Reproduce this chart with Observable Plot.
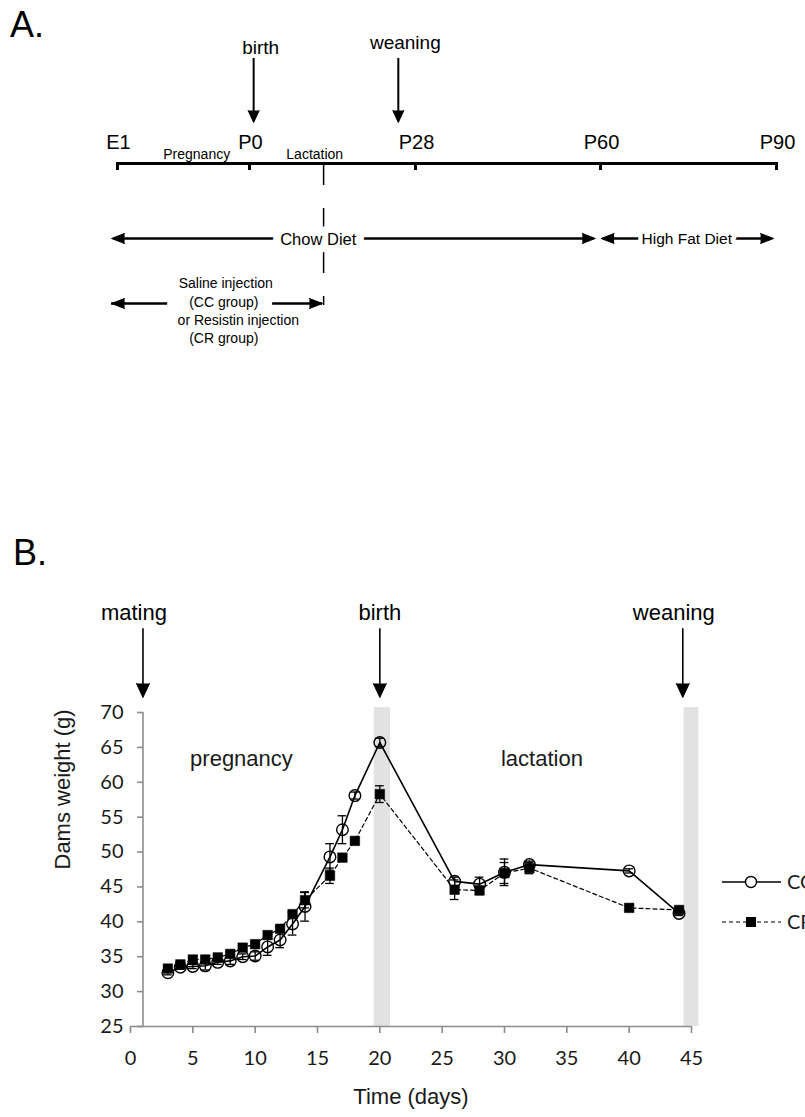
<!DOCTYPE html>
<html><head><meta charset="utf-8">
<script src="https://cdn.jsdelivr.net/npm/d3@7"></script>
<script src="https://cdn.jsdelivr.net/npm/@observablehq/plot@0.6"></script>
<style>
body{margin:0;background:#fff;}
#wrap{position:relative;width:805px;height:1117px;overflow:hidden;background:#fff;font-family:"Liberation Sans",Arial,sans-serif;color:#000;}
#a,#b{position:absolute;left:0;}
#a{top:0}#b{top:480px}
.panel{position:absolute;font-size:36px;line-height:1;}
</style></head><body>
<div id="wrap">
  <div id="a"></div><div id="b"></div>
  <div class="panel" style="left:10px;top:7px">A.</div>
  <div class="panel" style="left:13px;top:535px">B.</div>
</div>
<script>
// ---------- Panel A data (schematic timeline, in days relative to birth) ----------
const stopLabels = ["E1","P0","P28","P60","P90"];
const stopDays = [-20, 0, 28, 60, 90];
const phaseLabels = ["Pregnancy","Lactation"];
const phaseDays = [-8, 11];
const eventLabelsA = ["birth","weaning"];
const eventDaysA = [0.7, 25.1];
const eventLabelRowA = [47, 42];
const injectionEndDay = 12.5;
const dietLabels = ["Chow Diet","High Fat Diet"];
const dietFrom = [-20.9, 60.1];
const dietTo = [59.1, 89.5];
const dietMid = [11.6, 74.7];
const injectionLines = ["Saline injection","(CC group)","or Resistin injection","(CR group)"];
const injectionLineDays = [-3.6, -3.9, -1.7, -3.9];
const injectionFrom = [-20.9, 3.9];
const injectionTo = [-12.4, 12.3];

// ---------- Panel B data ----------
const days = [3,4,5,6,7,8,9,10,11,12,13,14,16,17,18,20,26,28,30,32,40,44];
const ccWeight = [32.7,33.5,33.6,33.7,34.2,34.4,35.0,35.1,36.4,37.4,39.7,42.2,49.3,53.2,58.1,65.7,45.8,45.4,47.1,48.2,47.3,41.2];
const ccErr    = [0.3,0.3,0.3,0.6,0.3,0.5,0.4,0.6,1.2,1.1,1.6,2.1,1.9,2.0,0.5,0.6,0.6,1.0,1.9,0.5,0.3,0.3];
const crWeight = [33.3,33.9,34.6,34.6,34.9,35.4,36.3,36.8,38.1,39.0,41.1,43.1,46.6,49.2,51.6,58.3,44.6,44.5,47.0,47.7,42.0,41.7];
const crErr    = [0.3,0.3,0.3,0.3,0.3,0.3,0.3,0.3,0.3,0.3,0.3,1.1,1.1,0.5,0.3,1.2,1.4,0.6,1.5,0.8,0.3,0.3];
const xTicks = [0,5,10,15,20,25,30,35,40,45];
const yTicks = [25,30,35,40,45,50,55,60,65,70];
const eventLabelsB = ["mating","birth","weaning"];
const eventDaysB = [1, 20, 44.3];
const bandFrom = [19.55, 44.4];
const bandTo = [20.85, 45.6];
const phaseLabelsB = ["pregnancy","lactation"];
const phaseDaysB = [8.9, 33.0];
const seriesNames = ["CC","CR"];

// ---------- Panel A ----------
const stops = stopLabels.map((label,i)=>({label, day: stopDays[i]}));
const phases = phaseLabels.map((label,i)=>({label, day: phaseDays[i]}));
const eventsA = eventLabelsA.map((label,i)=>({label, day: eventDaysA[i], row: i}));
const diets = dietLabels.map((label,i)=>({label, from: dietFrom[i], to: dietTo[i], mid: dietMid[i]}));
const injText = injectionLines.map((label,i)=>({label, day: injectionLineDays[i], row: i}));
const injSegs = injectionFrom.map((f,i)=>({from: f, to: injectionTo[i]}));
const rowY = [283, 302, 320, 338];

const plotA = Plot.plot({
  width: 805, height: 480, margin: 0,
  x: {type: "linear", domain: stopDays, range: [117, 249, 415, 600, 776], axis: null},
  y: {type: "identity", axis: null},
  style: {fontFamily: "'Liberation Sans', Arial, sans-serif", color: "black", background: "white"},
  marks: [
    // timeline
    Plot.ruleY([{from: stopDays[0], to: stopDays[stopDays.length-1]}], {y: 163, x1: "from", x2: "to", strokeWidth: 3, stroke: "black"}),
    Plot.ruleX(stops, {x: "day", y1: 162, y2: 170, strokeWidth: 3, stroke: "black"}),
    Plot.text(stops, {x: "day", y: 142, dx: 1, text: "label", fontSize: 20, fill: "black"}),
    Plot.text(phases, {x: "day", y: 154, text: "label", fontSize: 14, fill: "black"}),
    // event arrows
    Plot.ruleX(eventsA, {x: "day", y1: 58, y2: 115, strokeWidth: 2, stroke: "black"}),
    Plot.vector(eventsA, {x: "day", y: 122, rotate: 180, length: 12, shape: "spike", r: 5.5, anchor: "end", fill: "black", stroke: "black", strokeWidth: 1}),
    Plot.text(eventsA, {x: "day", y: d => eventLabelRowA[d.row], dx: 7, text: "label", fontSize: 19, fill: "black"}),
    // lactation split (dashed)
    Plot.ruleX([injectionEndDay], {y1: 164, y2: 305, strokeWidth: 1.5, stroke: "black", strokeDasharray: "21,23"}),
    // diets
    Plot.ruleY(diets, {y: 238, x1: "from", x2: "to", insetLeft: 6, insetRight: 6, strokeWidth: 2.5, stroke: "black"}),
    Plot.vector(diets, {x: "from", y: 238, rotate: 270, length: 13, shape: "spike", r: 5, anchor: "end", fill: "black", stroke: "black", strokeWidth: 1}),
    Plot.vector(diets, {x: "to", y: 238, rotate: 90, length: 13, shape: "spike", r: 5, anchor: "end", fill: "black", stroke: "black", strokeWidth: 1}),
    Plot.text(diets.slice(0,1), {x: "mid", y: 239, text: "label", fontSize: 16.5, fill: "black", stroke: "white", strokeWidth: 16}),
    Plot.text(diets.slice(1), {x: "mid", y: 239, text: "label", fontSize: 15.5, fill: "black", stroke: "white", strokeWidth: 9}),
    // injection
    Plot.ruleY(injSegs, {y: 303, x1: "from", x2: "to", strokeWidth: 2.5, stroke: "black"}),
    Plot.vector(injSegs.slice(0,1), {x: "from", y: 303, rotate: 270, length: 13, shape: "spike", r: 5, anchor: "end", fill: "black", stroke: "black", strokeWidth: 1}),
    Plot.vector(injSegs.slice(1), {x: "to", y: 303, rotate: 90, length: 13, shape: "spike", r: 5, anchor: "end", fill: "black", stroke: "black", strokeWidth: 1}),
    Plot.text(injText, {x: "day", y: d => rowY[d.row], text: "label", fontSize: 14, fill: "black"})
  ]
});
document.getElementById("a").append(plotA);

// ---------- Panel B ----------
const ccRows = days.map((d,i)=>({day: d, w: ccWeight[i], e: ccErr[i]}));
const crRows = days.map((d,i)=>({day: d, w: crWeight[i], e: crErr[i]}));
const bands = bandFrom.map((f,i)=>({from: f, to: bandTo[i]}));
const eventsB = eventLabelsB.map((label,i)=>({label, day: eventDaysB[i]}));
const phasesB = phaseLabelsB.map((label,i)=>({label, day: phaseDaysB[i]}));
const eventLabelShift = [-9, 0, -9];

const errMarks = (rows) => [
  Plot.ruleX(rows, {x: "day", y1: d => d.w - d.e, y2: d => d.w + d.e, stroke: "black", strokeWidth: 1.3}),
  Plot.ruleY(rows, {y: d => d.w + d.e, x1: d => d.day - 0.35, x2: d => d.day + 0.35, stroke: "black", strokeWidth: 1.3}),
  Plot.ruleY(rows, {y: d => d.w - d.e, x1: d => d.day - 0.35, x2: d => d.day + 0.35, stroke: "black", strokeWidth: 1.3})
];

const plotB = Plot.plot({
  width: 805, height: 637,
  marginTop: 232, marginBottom: 91, marginLeft: 130, marginRight: 114,
  x: {domain: [0, 45], axis: null},
  y: {domain: [25, 70], axis: null},
  style: {fontFamily: "'Liberation Sans', Arial, sans-serif", color: "black", background: "transparent", overflow: "visible"},
  marks: [
    Plot.rect(bands, {x1: "from", x2: "to", y1: 25, y2: 70.7, fill: "#e2e2e2"}),
    Plot.ruleY([25], {x1: 0, x2: 45, stroke: "#8c8c8c", strokeWidth: 1.6}),
    Plot.ruleX([1], {y1: 25, y2: 70, stroke: "#8c8c8c", strokeWidth: 1.6}),
    Plot.axisX({ticks: xTicks, tickSize: 7, tickPadding: 17, stroke: "#8c8c8c", strokeWidth: 1.6, fill: "#1a1a1a", fontSize: 20, fontFamily: "Lato, 'Open Sans', sans-serif", label: null}),
    Plot.axisY({ticks: yTicks, tickSize: 6, tickPadding: 14, dx: 13, stroke: "#8c8c8c", strokeWidth: 1.6, fill: "#1a1a1a", fontSize: 20, fontFamily: "Lato, 'Open Sans', sans-serif", label: null}),
    Plot.text(["Time (days)"], {frameAnchor: "bottom", dy: 77, text: d => d, fontSize: 22, fill: "#1a1a1a"}),
    Plot.text(["Dams weight (g)"], {frameAnchor: "left", dx: -68, rotate: -90, text: d => d, fontSize: 22, fill: "#1a1a1a"}),
    // event arrows
    Plot.ruleX(eventsB, {x: "day", y1: 82.0, y2: 73.5, stroke: "black", strokeWidth: 1.6}),
    Plot.vector(eventsB, {x: "day", y: 72.15, rotate: 180, length: 14, shape: "spike", r: 6.5, anchor: "end", fill: "black", stroke: "black", strokeWidth: 1}),
    ...eventsB.map((e, i) => Plot.text([e], {x: "day", y: 84.2, dx: eventLabelShift[i], text: "label", fontSize: 22, fill: "black"})),
    Plot.text(phasesB, {x: "day", y: 63.4, text: "label", fontSize: 22, fill: "#1a1a1a"}),
    // error bars
    ...errMarks(crRows),
    ...errMarks(ccRows),
    // lines
    Plot.line(crRows, {x: "day", y: "w", stroke: "black", strokeWidth: 1.2, strokeDasharray: "4,3"}),
    Plot.line(ccRows, {x: "day", y: "w", stroke: "black", strokeWidth: 1.6}),
    Plot.dot(crRows, {x: "day", y: "w", symbol: "square", r: 5.4, fill: "black", stroke: "black", strokeWidth: 0.5}),
    Plot.dot(ccRows, {x: "day", y: "w", r: 5.8, fill: "white", fillOpacity: 0, stroke: "black", strokeWidth: 1.4})
  ]
});
document.getElementById("b").append(plotB);

// ---------- Legend (beside panel B) ----------
const leg = d3.select("#wrap").append("svg")
  .attr("width", 805).attr("height", 1117)
  .style("position", "absolute").style("left", 0).style("top", 0).style("pointer-events", "none");
const legY = [882, 922];
seriesNames.forEach((name, i) => {
  const g = leg.append("g").attr("transform", `translate(0,${legY[i]})`);
  g.append("line").attr("x1", 722).attr("x2", 781).attr("y1", 0).attr("y2", 0)
    .attr("stroke", "black").attr("stroke-width", i === 0 ? 1.6 : 1.2)
    .attr("stroke-dasharray", i === 0 ? null : "4,3");
  if (i === 0) g.append("circle").attr("cx", 751).attr("cy", 0).attr("r", 5.5).attr("fill", "white").attr("stroke", "black").attr("stroke-width", 1.4);
  else g.append("rect").attr("x", 746).attr("y", -5).attr("width", 10).attr("height", 10).attr("fill", "black");
  g.append("text").attr("x", 787).attr("y", 0).attr("dy", "0.35em").attr("font-size", 20)
    .attr("font-family", "Lato, 'Open Sans', sans-serif").attr("fill", "#1a1a1a").text(name);
});
</script>
</body></html>
